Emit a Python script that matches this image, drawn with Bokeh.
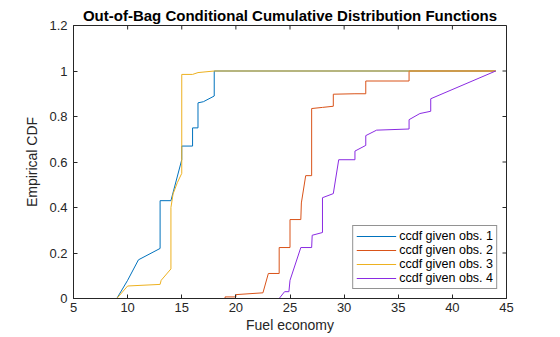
from bokeh.plotting import figure
from bokeh.models import Range1d, FixedTicker, Legend, LegendItem
from bokeh.embed import file_html
from bokeh.resources import INLINE

# ---- data ----
x1 = [9, 10, 11, 13, 13, 14, 15, 15, 16, 16, 16.5, 16.5, 17, 18, 18, 44]
y1 = [0, 0.08, 0.17, 0.22, 0.43, 0.43, 0.61, 0.67, 0.67, 0.75, 0.75, 0.86, 0.865, 0.89, 1.0, 1.0]

x2 = [19, 19, 20, 20, 22.5, 23, 24, 24, 25, 25, 26, 26.05, 26.45, 27, 27, 28, 29, 29, 31, 32, 32, 36, 36, 44]
y2 = [0, 0.007, 0.007, 0.017, 0.025, 0.11, 0.11, 0.224, 0.224, 0.347, 0.347, 0.42, 0.54, 0.54,
      0.835, 0.84, 0.845, 0.898, 0.9, 0.9, 0.956, 0.956, 1.0, 1.0]

x3 = [9, 10, 13, 13.1, 14, 14, 14.2, 14.6, 15, 15, 16, 16.5, 18, 44]
y3 = [0, 0.055, 0.062, 0.08, 0.13, 0.40, 0.46, 0.51, 0.55, 0.985, 0.985, 0.993, 1.0, 1.0]

x4 = [9, 24, 24.5, 24.9, 25, 26, 27, 27.05, 28, 28, 29, 29.5, 31, 31, 32, 32, 33, 36, 36, 37, 38, 38, 44]
y4 = [0, 0, 0.03, 0.03, 0.08, 0.224, 0.224, 0.278, 0.29, 0.443, 0.461, 0.61, 0.61, 0.648,
      0.673, 0.716, 0.74, 0.745, 0.786, 0.813, 0.823, 0.878, 1.0]

labels = ["ccdf given obs. 1", "ccdf given obs. 2", "ccdf given obs. 3", "ccdf given obs. 4"]
colors = ["#0072BD", "#D95319", "#EDB120", "#8A2BE2"]

x_ticks = [5, 10, 15, 20, 25, 30, 35, 40, 45]
y_ticks = [0, 0.2, 0.4, 0.6, 0.8, 1.0, 1.2]
y_tick_labels = {0: "0", 0.2: "0.2", 0.4: "0.4", 0.6: "0.6", 0.8: "0.8", 1.0: "1", 1.2: "1.2"}

FONT = "Liberation Sans"
TXT = "#262626"
X0, X1, Y0, Y1 = 5, 45, 0, 1.2
W, H = 560, 337
BL, BR, BT, BB = 73, 54, 25, 39
TICK_PX = 4

p = figure(width=W, height=H, output_backend="svg", toolbar_location=None,
           x_range=Range1d(X0, X1), y_range=Range1d(Y0, Y1),
           min_border_left=BL, min_border_right=BR, min_border_top=BT, min_border_bottom=BB,
           title="Out-of-Bag Conditional Cumulative Distribution Functions")
p.background_fill_color = "white"
p.border_fill_color = "white"
p.outline_line_color = TXT
p.outline_line_width = 1
p.grid.visible = False

p.title.text_font = FONT
p.title.text_font_size = "15px"
p.title.text_font_style = "bold"
p.title.text_color = "#000000"
p.title.align = "center"
p.title.standoff = 4
p.title.offset = 0

renderers = []
for xs, ys, c in zip([x1, x2, x3, x4], [y1, y2, y3, y4], colors):
    r = p.line(xs, ys, line_color=c, line_width=1)
    renderers.append(r)

# inward ticks on the top and right edges (box on)
dx = (X1 - X0) / (W - BL - BR) * TICK_PX
dy = (Y1 - Y0) / (H - BT - BB) * TICK_PX
p.segment(x0=[X1 - dx] * len(y_ticks), y0=y_ticks, x1=[X1] * len(y_ticks), y1=y_ticks,
          line_color=TXT, line_width=1)
p.segment(x0=x_ticks, y0=[Y1 - dy] * len(x_ticks), x1=x_ticks, y1=[Y1] * len(x_ticks),
          line_color=TXT, line_width=1)

for ax in [p.xaxis[0], p.yaxis[0]]:
    ax.axis_line_color = TXT
    ax.major_tick_line_color = TXT
    ax.major_tick_in = TICK_PX
    ax.major_tick_out = 0
    ax.minor_tick_line_color = None
    ax.major_label_text_font = FONT
    ax.major_label_text_font_size = "13px"
    ax.major_label_text_color = TXT
    ax.axis_label_text_font = FONT
    ax.axis_label_text_font_size = "14px"
    ax.axis_label_text_font_style = "normal"
    ax.axis_label_text_color = TXT

p.xaxis.ticker = FixedTicker(ticks=x_ticks)
p.yaxis.ticker = FixedTicker(ticks=y_ticks)
p.yaxis.major_label_overrides = y_tick_labels
p.xaxis.axis_label = "Fuel economy"
p.yaxis.axis_label = "Empirical CDF"
p.xaxis.major_label_standoff = 4
p.xaxis.axis_label_standoff = 2
p.yaxis.major_label_standoff = 6
p.yaxis.axis_label_standoff = 6

legend = Legend(items=[LegendItem(label=l, renderers=[r]) for l, r in zip(labels, renderers)],
                location="bottom_right")
legend.label_text_font = FONT
legend.label_text_font_size = "12.5px"
legend.label_text_color = "#000000"
legend.border_line_color = TXT
legend.border_line_width = 1
legend.background_fill_color = "white"
legend.background_fill_alpha = 1
legend.glyph_width = 40
legend.glyph_height = 14
legend.label_height = 14
legend.label_standoff = 3
legend.spacing = 0
legend.padding = 3
legend.margin = 9
p.add_layout(legend, "center")

open("out.html", "w").write(file_html(p, INLINE))
